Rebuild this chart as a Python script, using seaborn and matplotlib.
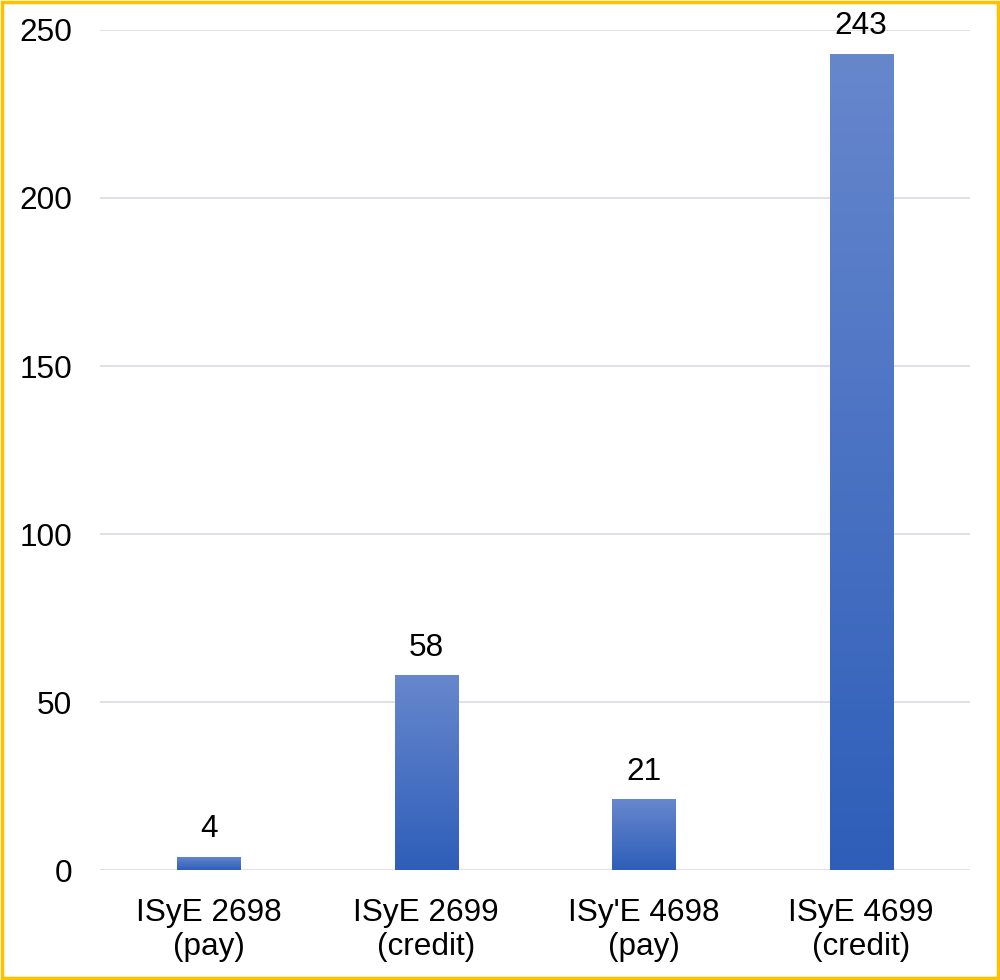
import matplotlib.pyplot as plt
import seaborn as sns
import numpy as np
from matplotlib.patches import Rectangle
from matplotlib.colors import LinearSegmentedColormap

courses = ["ISyE 2698\n(pay)", "ISyE 2699\n(credit)", "ISy'E 4698\n(pay)", "ISyE 4699\n(credit)"]
counts = [4, 58, 21, 243]
yticks = [0, 50, 100, 150, 200, 250]

sns.set_style("white")
plt.rcParams['font.family'] = ['Liberation Sans', 'DejaVu Sans']

fig = plt.figure(figsize=(10, 9.8), dpi=100)
ax = fig.add_axes([0.1, 0.1122, 0.87, 0.8572])

sns.barplot(x=courses, y=counts, ax=ax, width=0.29, color="#4472C4")

# vertical gradient inside each bar, lighter at the top
grad = LinearSegmentedColormap.from_list("bar", ["#2E5EB9", "#6787CD"])
for p in ax.patches:
    x0, y0 = p.get_x(), p.get_y()
    w, h = p.get_width(), p.get_height()
    p.set_facecolor("none")
    p.set_edgecolor("none")
    img = ax.imshow(np.linspace(0, 1, 256).reshape(-1, 1), cmap=grad, aspect="auto",
                    origin="lower", extent=[x0, x0 + w, y0, y0 + h], zorder=2)
    img.set_clip_path(p)
    ax.annotate(f"{int(h)}", (x0 + w / 2, h), xytext=(0, 9), textcoords="offset points",
                ha="center", va="bottom", fontsize=22.7, color="black")

ax.set_xlim(-0.5, 3.5)
ax.set_ylim(0, 250)
ax.set_yticks(yticks)
ax.yaxis.grid(True, color="#D9DCE3", linewidth=1.2)
ax.set_axisbelow(True)
for s in ax.spines.values():
    s.set_visible(False)
ax.tick_params(axis="both", length=0, labelsize=22.7, colors="black")
ax.tick_params(axis="y", pad=20)
ax.tick_params(axis="x", pad=20)

fig.patches.append(Rectangle((0.002, 0.002), 0.996, 0.996, transform=fig.transFigure,
                             fill=False, edgecolor="#FFC000", linewidth=2.5))

fig.savefig("out.png", dpi=100, facecolor="white")
